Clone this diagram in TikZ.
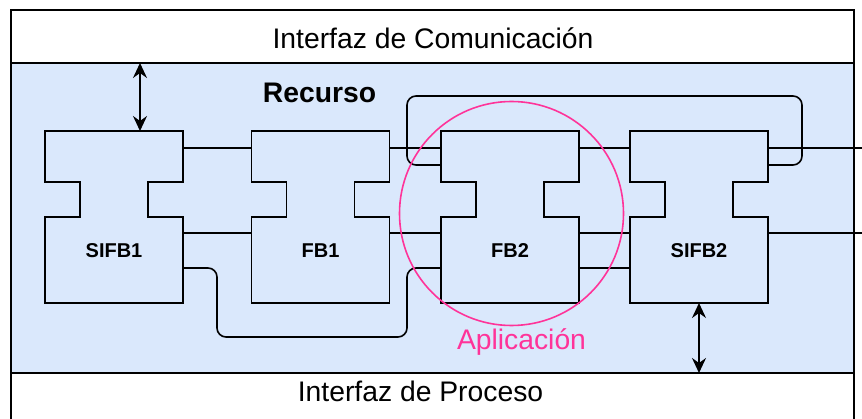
\documentclass[tikz,border=0pt]{standalone}
\usepackage{fontspec}
\setmainfont{Liberation Sans}
\usetikzlibrary{calc,arrows.meta}
\definecolor{resfill}{HTML}{DAE8FC}
\definecolor{apppink}{HTML}{FF3399}

% notched function-block outline around a named placeholder node
\newcommand\drawfbblock[1]{%
  \draw[fboutline] (#1.north west) -- (#1.north east) -- ++(0,51) -- ++(-35,0)
    -- ++(0,35) -- ++(35,0) -- (#1.south east) -- (#1.south west) -- ++(0,-86)
    -- ++(35,0) -- ++(0,-35) -- ++(-35,0) -- cycle;}

\begin{document}
\begin{tikzpicture}[x=1pt,y=-1pt,
  frame/.style={draw=black,line width=1.8pt,inner sep=0pt,outer sep=0pt,minimum width=843pt},
  fbbox/.style={inner sep=0pt,outer sep=0pt,minimum width=138pt,minimum height=172pt},
  fboutline/.style={draw=black,fill=resfill,line width=1.8pt,line join=miter},
  wire/.style={draw=black,line width=1.6pt,rounded corners=9pt},
  biarrow/.style={draw=black,line width=1.6pt,
    {Stealth[length=15pt,width=14pt,inset=5pt]}-{Stealth[length=15pt,width=14pt,inset=5pt]}},
  bigtext/.style={font=\fontsize{28.3}{34}\selectfont,anchor=base,inner sep=0pt},
  fbtext/.style={font=\bfseries\fontsize{20}{24}\selectfont,anchor=base,inner sep=0pt},
]
\useasboundingbox (0,0) rectangle (862,419);
\clip (0,0) rectangle (862,419);

% interfaces and resource area
\node[frame,fill=white,minimum height=53pt] (com) at (432.5,36.5) {};
\node[frame,fill=resfill,minimum height=310pt] (res) at (432.5,218) {};
\node[frame,fill=white,minimum height=80pt] (proc) at (432.5,413) {};

% function blocks
\node[fbbox] (sifb1) at (114,217) {};
\node[fbbox] (fb1) at (320.5,217) {};
\node[fbbox] (fb2) at (510,217) {};
\node[fbbox] (sifb2) at (699,217) {};
\drawfbblock{sifb1}
\drawfbblock{fb1}
\drawfbblock{fb2}
\drawfbblock{sifb2}

% connections
\draw[wire] ($(sifb1.north east)+(0,17)$) -- ($(fb1.north west)+(0,17)$);
\draw[wire] ($(sifb1.north east)+(0,102)$) -- ($(fb1.north west)+(0,102)$);
\draw[wire] ($(sifb1.north east)+(0,137)$) -- ++(34,0) -- ++(0,69) -- ++(190,0)
  -- ++(0,-69) -- ($(fb2.north west)+(0,137)$);
\draw[wire] ($(fb1.north east)+(0,17)$) -- ($(fb2.north west)+(0,17)$);
\draw[wire] ($(fb1.north east)+(0,102)$) -- ($(fb2.north west)+(0,102)$);
\draw[wire] ($(fb2.north west)+(0,34)$) -- ++(-34,0) -- ++(0,-69) -- ++(395,0)
  -- ++(0,69) -- ($(sifb2.north east)+(0,34)$);
\draw[wire] ($(fb2.north east)+(0,17)$) -- ($(sifb2.north west)+(0,17)$);
\draw[wire] ($(fb2.north east)+(0,102)$) -- ($(sifb2.north west)+(0,102)$);
\draw[wire] ($(fb2.north east)+(0,137)$) -- ($(sifb2.north west)+(0,137)$);
\coordinate (exitA) at (866,148);
\coordinate (exitB) at (866,233);
\draw[wire] ($(sifb2.north east)+(0,17)$) -- (exitA);
\draw[wire] ($(sifb2.north east)+(0,102)$) -- (exitB);

% links to the interfaces
\path ($(sifb1.north west)+(95,0)$) coordinate (a1);
\draw[biarrow] (com.south -| a1) -- (a1);
\draw[biarrow] (sifb2.south) -- (sifb2.south |- proc.north);

% application boundary
\node[draw=apppink,line width=1.6pt,circle,minimum size=224pt,inner sep=0pt] (app) at (511.5,213.5) {};

% labels
\node[bigtext] (comlbl) at (433,48.3) {Interfaz de Comunicación};
\node[bigtext] (proclbl) at (420.5,401.7) {Interfaz de Proceso};
\node[bigtext,font=\bfseries\fontsize{28.3}{34}\selectfont] (reslbl) at (319.5,103) {Recurso};
\node[bigtext,text=apppink] (applbl) at (521.5,350) {Aplicación};
\node[fbtext] at ($(sifb1.south)+(0,-45)$) {SIFB1};
\node[fbtext] at ($(fb1.south)+(0,-45)$) {FB1};
\node[fbtext] at ($(fb2.south)+(0,-45)$) {FB2};
\node[fbtext] at ($(sifb2.south)+(0,-45)$) {SIFB2};
\end{tikzpicture}
\end{document}
